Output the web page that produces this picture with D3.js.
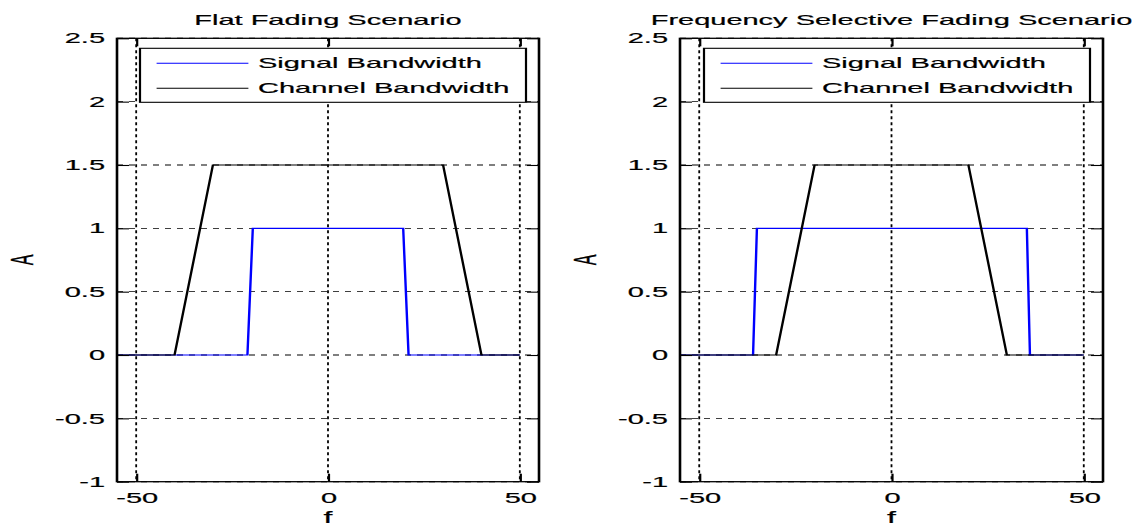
<!DOCTYPE html>
<html>
<head>
<meta charset="utf-8">
<script src="https://cdn.jsdelivr.net/npm/d3@7"></script>
<style>
  html, body { margin: 0; padding: 0; background: #fff; }
  svg { display: block; }
  text { font-family: "Liberation Sans", Arial, sans-serif; fill: #000; stroke: #000; stroke-width: 0.2; }
</style>
</head>
<body>
<svg id="chart"></svg>
<script>
// DATA
const xTicks = [-50, 0, 50];
const yTicks = [-1, -0.5, 0, 0.5, 1, 1.5, 2, 2.5];
const legendNames = ["Signal Bandwidth", "Channel Bandwidth"];

const flatSignalF = [-55, -21, -19.6, 19.6, 21, 50];
const flatSignalA = [0, 0, 1, 1, 0, 0];
const flatChannelF = [-55, -40, -30, 30, 40, 50];
const flatChannelA = [0, 0, 1.5, 1.5, 0, 0];

const selSignalF = [-55, -36, -35, 35.2, 36, 50];
const selSignalA = [0, 0, 1, 1, 0, 0];
const selChannelF = [-55, -30, -20, 20, 30, 50];
const selChannelA = [0, 0, 1.5, 1.5, 0, 0];

// LAYOUT (the picture is stretched 2x horizontally, so draw in a narrow viewBox)
const W = 1139, H = 525, S = 2;
const VW = W / S;
const yTop = 38.3, yBottom = 481.7;
const fmt = d => String(d); // plain hyphen minus, like MATLAB

const svg = d3.select("#chart")
  .attr("width", W)
  .attr("height", H)
  .attr("viewBox", `0 0 ${VW} ${H}`)
  .attr("preserveAspectRatio", "none");

const y = d3.scaleLinear().domain([-1, 2.5]).range([yBottom, yTop]);

const panels = [
  { title: "Flat Fading Scenario", left: 58.5, right: 269.5,
    series: [[flatSignalF, flatSignalA, "#0000ff"], [flatChannelF, flatChannelA, "#000"]] },
  { title: "Frequency Selective Fading Scenario", left: 340, right: 551.5,
    series: [[selSignalF, selSignalA, "#0000ff"], [selChannelF, selChannelA, "#000"]] }
];

panels.forEach(p => drawPanel(p));

function drawPanel(p) {
  const x = d3.scaleLinear().domain([-55, 55]).range([p.left, p.right]);
  const g = svg.append("g");

  // grid
  const grid = g.append("g")
    .attr("stroke", "#000")
    .attr("stroke-width", 0.9)
    .attr("stroke-dasharray", "3,3");
  grid.selectAll(".gx")
    .data(xTicks)
    .join("line")
    .attr("class", "gx")
    .attr("x1", d => x(d)).attr("x2", d => x(d))
    .attr("y1", yTop).attr("y2", yBottom);
  grid.selectAll(".gy")
    .data(yTicks)
    .join("line")
    .attr("class", "gy")
    .attr("x1", p.left).attr("x2", p.right)
    .attr("y1", d => y(d)).attr("y2", d => y(d));

  // lines
  const line = d3.line().x(d => x(d[0])).y(d => y(d[1]));
  p.series.forEach(([fs, as, color]) => {
    g.append("path")
      .datum(d3.zip(fs, as))
      .attr("fill", "none")
      .attr("stroke", color)
      .attr("stroke-width", 1.2)
      .attr("d", line);
  });

  // axes, MATLAB style with ticks inside
  const tick = 6;
  g.append("g")
    .attr("transform", `translate(${p.left},0)`)
    .call(d3.axisLeft(y).tickValues(yTicks).tickSizeInner(-tick).tickSizeOuter(0).tickPadding(6)
      .tickFormat(fmt))
    .call(a => a.select(".domain").remove())
    .call(a => a.selectAll("text").attr("font-size", 14.5));
  g.append("g")
    .attr("transform", `translate(${p.right},0)`)
    .call(d3.axisRight(y).tickValues(yTicks).tickSizeInner(-tick).tickSizeOuter(0).tickFormat(""))
    .call(a => a.select(".domain").remove());
  g.append("g")
    .attr("transform", `translate(0,${yBottom})`)
    .call(d3.axisBottom(x).tickValues(xTicks).tickSizeInner(-8).tickSizeOuter(0).tickPadding(0)
      .tickFormat(fmt))
    .call(a => a.select(".domain").remove())
    .call(a => a.selectAll("text").attr("font-size", 14.5).attr("dy", null).attr("y", 21.5));
  g.append("g")
    .attr("transform", `translate(0,${yTop})`)
    .call(d3.axisTop(x).tickValues(xTicks).tickSizeInner(-8).tickSizeOuter(0).tickFormat(""))
    .call(a => a.select(".domain").remove());
  g.selectAll(".tick line").attr("stroke", "#000").attr("stroke-width", 1.1);
  g.selectAll(".tick text").attr("fill", "#000");

  g.append("rect")
    .attr("x", p.left).attr("y", yTop)
    .attr("width", p.right - p.left).attr("height", yBottom - yTop)
    .attr("fill", "none")
    .attr("stroke", "#000")
    .attr("stroke-width", 1.3);

  // labels
  g.append("text")
    .attr("x", (p.left + p.right) / 2).attr("y", 25)
    .attr("text-anchor", "middle")
    .attr("font-size", 14.5)
    .text(p.title);
  g.append("text")
    .attr("x", (p.left + p.right) / 2).attr("y", 523)
    .attr("text-anchor", "middle")
    .attr("font-size", 16)
    .text("f");
  g.append("text")
    .attr("transform", `translate(${p.left - 47.5},${(yTop + yBottom) / 2}) rotate(-90)`)
    .attr("text-anchor", "middle")
    .attr("dy", "0.35em")
    .attr("font-size", 16)
    .text("A");

  // legend
  const lw = 193, lh = 54;
  const lx = p.right - 6.5 - lw, ly = yTop + 10;
  const leg = g.append("g").attr("transform", `translate(${lx},${ly})`);
  leg.append("rect")
    .attr("width", lw).attr("height", lh)
    .attr("fill", "#fff")
    .attr("stroke", "#000")
    .attr("stroke-width", 1.1);
  const rows = leg.selectAll(".row")
    .data(p.series.map((s, i) => ({ name: legendNames[i], color: s[2] })))
    .join("g")
    .attr("class", "row")
    .attr("transform", (d, i) => `translate(0,${15 + i * 25})`);
  rows.append("line")
    .attr("x1", 8.3).attr("x2", 54.2)
    .attr("stroke", d => d.color)
    .attr("stroke-width", 1.1);
  rows.append("text")
    .attr("x", 59)
    .attr("dy", "0.35em")
    .attr("font-size", 14.5)
    .text(d => d.name);
}
</script>
</body>
</html>
